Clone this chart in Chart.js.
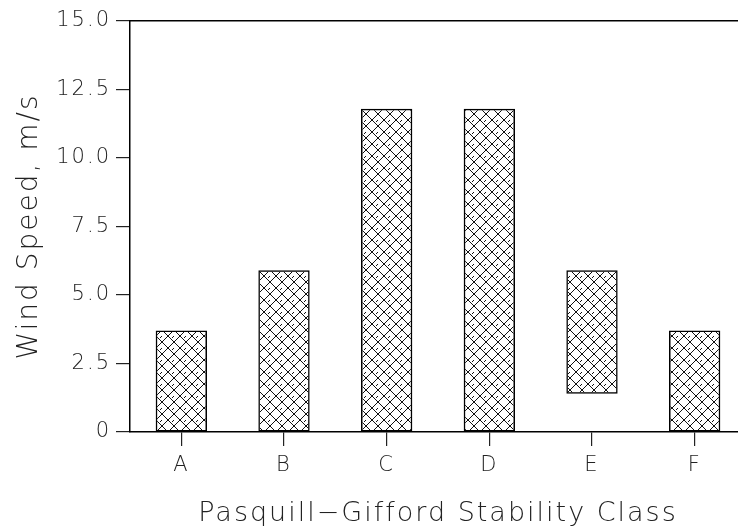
<!DOCTYPE html>
<html>
<head>
<meta charset="utf-8">
<script src="https://cdn.jsdelivr.net/npm/chart.js@4/dist/chart.umd.min.js"></script>
<style>
  html, body { margin: 0; padding: 0; background: #fff; overflow: hidden; }
  #wrap { width: 750px; height: 531px; }
</style>
</head>
<body>
<div id="wrap"><canvas id="windChart"></canvas></div>
<script>
// stability classes and the wind speed range for each
const categories = ['A', 'B', 'C', 'D', 'E', 'F'];
const lowValues = [0, 0, 0, 0, 1.4, 0];
const highValues = [3.7, 5.9, 11.8, 11.8, 5.9, 3.7];
const yTickLabels = ['0', '2.5', '5.0', '7.5', '10.0', '12.5', '15.0'];

const FONT = '"DejaVu Sans", "Liberation Sans", sans-serif';
const INK = '#222';

// cross hatch fill for the bars, with a small stub for the brick look
function makeHatch() {
  const size = 12;
  const c = document.createElement('canvas');
  c.width = size; c.height = size;
  const g = c.getContext('2d');
  g.strokeStyle = '#111';
  g.lineWidth = 1;
  g.beginPath();
  g.moveTo(0, 0); g.lineTo(size, size);
  g.moveTo(0, size); g.lineTo(size, 0);
  g.moveTo(6, 0); g.lineTo(4, 2);
  g.stroke();
  return g.createPattern(c, 'repeat');
}

const spacing = {
  id: 'spacing',
  beforeLayout(chart) { chart.ctx.letterSpacing = '2px'; },
  beforeDraw(chart) { chart.ctx.letterSpacing = '2px'; }
};

const ranges = categories.map((c, i) => [lowValues[i], highValues[i]]);

new Chart(document.getElementById('windChart'), {
  type: 'bar',
  data: {
    labels: categories,
    datasets: [{
      data: ranges,
      backgroundColor: makeHatch(),
      borderColor: '#000',
      borderWidth: 1.5,
      borderSkipped: false,
      barPercentage: 0.5,
      categoryPercentage: 1.0
    }]
  },
  options: {
    responsive: true,
    maintainAspectRatio: false,
    animation: false,
    layout: { padding: { left: 0, right: 4, top: 0, bottom: 0 } },
    plugins: {
      legend: { display: false },
      tooltip: { enabled: false }
    },
    scales: {
      x: {
        position: 'bottom',
        offset: true,
        grid: { offset: false, drawOnChartArea: false, drawTicks: true, tickLength: 14, color: INK, lineWidth: 1.2 },
        border: { display: true, color: '#000', width: 1.5 },
        ticks: { color: INK, padding: 7, font: { family: FONT, size: 21, weight: 200 } },
        title: {
          display: true,
          text: 'Pasquill\u2212Gifford Stability Class',
          color: INK,
          padding: { top: 0, bottom: 1 },
          font: { family: FONT, size: 27, weight: 200 }
        },
        afterFit(scale) { scale.height = 99; }
      },
      x2: {
        type: 'category',
        labels: categories,
        position: 'top',
        grid: { drawOnChartArea: false, drawTicks: false, tickLength: 0 },
        border: { display: true, color: '#000', width: 1.5 },
        ticks: { display: false },
        afterFit(scale) { scale.height = 21; }
      },
      y: {
        min: 0,
        max: 15,
        grid: { drawOnChartArea: false, drawTicks: true, tickLength: 14, color: INK, lineWidth: 1.2 },
        border: { display: true, color: '#000', width: 1.5 },
        ticks: {
          stepSize: 2.5,
          color: INK,
          padding: 5,
          font: { family: FONT, size: 21, weight: 200 },
          callback: (v, i) => yTickLabels[i]
        },
        title: {
          display: true,
          text: 'Wind Speed, m/s',
          color: INK,
          padding: { top: 13, bottom: 0 },
          font: { family: FONT, size: 28, weight: 200 }
        },
        afterFit(scale) { scale.width = 130; }
      }
    }
  },
  plugins: [spacing]
});
</script>
</body>
</html>
